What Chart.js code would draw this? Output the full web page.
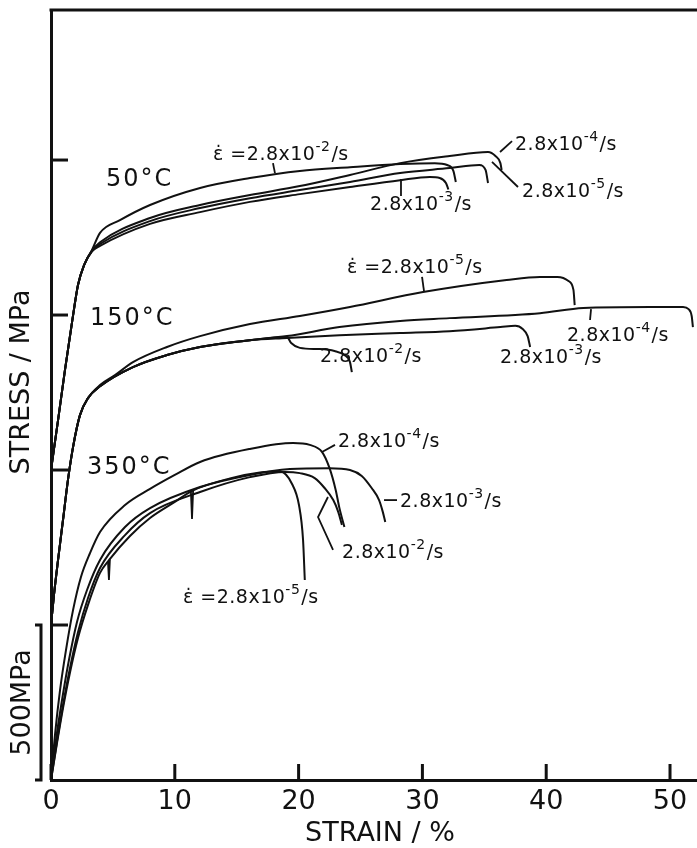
<!DOCTYPE html>
<html>
<head>
<meta charset="utf-8">
<script src="https://cdn.jsdelivr.net/npm/chart.js@4.4.1/dist/chart.umd.min.js"></script>
<style>
  html, body { margin: 0; padding: 0; background: #fff; }
</style>
</head>
<body>
<canvas id="ssChart" width="697" height="848"></canvas>
<script>
// strain in %, stress in MPa; each temperature group is shifted up by its offset
const xTicks = [0, 10, 20, 30, 40, 50];
const yTicks = [500, 1000, 1500, 2000];
const offset50 = 1000, offset150 = 500, offset350 = 0;

// --- 50 C ---
const strain50_e2 = [0, 0.57, 1.13, 1.70, 2.18, 2.67, 3.31, 3.96, 5.57, 8.0, 12.04, 16.07, 20.1, 24.15, 28.2, 31.0, 32.0, 32.5, 32.7];
const stress50_e2 = [0, 161, 323, 477, 597, 661, 710, 765, 806, 855, 910, 942, 965, 977, 987, 990, 984, 965, 929];
const strain50_e3 = [0, 0.57, 1.13, 1.70, 2.18, 2.67, 3.31, 3.96, 8.0, 12.04, 16.07, 20.1, 24.15, 28.2, 30.6, 31.4, 31.9, 32.1];
const stress50_e3 = [0, 161, 323, 477, 597, 661, 705, 723, 794, 832, 865, 890, 913, 935, 945, 942, 926, 905];
const strain50_e4 = [0, 0.57, 1.13, 1.70, 2.18, 2.67, 3.31, 3.96, 8.0, 12.04, 16.07, 20.1, 24.15, 28.2, 32.2, 35.3, 35.9, 36.3, 36.4];
const stress50_e4 = [0, 161, 323, 477, 597, 661, 708, 735, 813, 855, 887, 916, 952, 990, 1013, 1026, 1013, 990, 968];
const strain50_e5 = [0, 0.57, 1.13, 1.70, 2.18, 2.67, 3.31, 3.96, 8.0, 12.04, 16.07, 20.1, 24.15, 28.2, 32.2, 34.6, 35.1, 35.3];
const stress50_e5 = [0, 161, 323, 477, 597, 661, 706, 729, 803, 845, 877, 903, 929, 958, 974, 984, 968, 926];

// --- 150 C ---
const strain150_e2 = [0, 0.24, 0.57, 0.97, 1.37, 1.78, 2.34, 2.99, 3.96, 6.62, 9.37, 12.04, 16.07, 19.06, 19.4, 20.1, 21.7, 22.9, 23.7, 24.15, 24.3];
const stress150_e2 = [0, 97, 210, 339, 468, 574, 677, 732, 770, 832, 871, 897, 919, 929, 910, 894, 890, 884, 871, 848, 816];
const strain150_e3 = [0, 0.24, 0.57, 0.97, 1.37, 1.78, 2.34, 2.99, 3.96, 6.62, 9.37, 12.04, 16.07, 19.06, 23.3, 28.2, 32.2, 36.3, 37.5, 38.1, 38.5, 38.7];
const stress150_e3 = [0, 97, 210, 339, 468, 574, 677, 732, 770, 832, 871, 897, 919, 926, 935, 942, 948, 961, 965, 955, 932, 897];
const strain150_e4 = [0, 0.24, 0.57, 0.97, 1.37, 1.78, 2.34, 2.99, 3.96, 6.62, 9.37, 12.04, 16.07, 19.06, 23.3, 28.2, 32.2, 39.5, 43.0, 48.4, 51.05, 51.5, 51.75, 51.85];
const stress150_e4 = [0, 97, 210, 339, 468, 574, 677, 732, 770, 832, 871, 897, 919, 932, 961, 981, 990, 1006, 1023, 1026, 1026, 1019, 997, 961];
const strain150_e5 = [0, 0.24, 0.57, 0.97, 1.37, 1.78, 2.34, 2.99, 3.96, 5.17, 6.62, 9.37, 12.04, 16.07, 20.1, 24.15, 30.05, 36.8, 39.5, 40.9, 41.8, 42.2, 42.3];
const stress150_e5 = [0, 97, 210, 339, 468, 574, 677, 732, 774, 806, 848, 897, 932, 971, 997, 1026, 1074, 1113, 1123, 1123, 1110, 1081, 1032];

// --- 350 C ---
const strain350_e2 = [0, 0.48, 0.97, 1.53, 2.18, 2.99, 3.96, 5.98, 8.0, 12.04, 16.07, 18.9, 20.1, 21.3, 22.1, 22.8, 23.2, 23.5];
const stress350_e2 = [0, 123, 242, 361, 477, 587, 684, 790, 861, 929, 977, 994, 990, 974, 942, 903, 865, 823];
const strain350_e3 = [0, 0.40, 0.89, 1.45, 2.10, 2.91, 3.96, 5.98, 8.0, 12.04, 16.07, 19.3, 22.5, 24.15, 25.1, 25.9, 26.5, 26.8, 27.0];
const stress350_e3 = [0, 129, 258, 387, 510, 613, 710, 816, 877, 945, 984, 1003, 1006, 1000, 981, 942, 903, 865, 832];
const strain350_e4 = [0, 0.32, 0.73, 1.21, 1.78, 2.42, 3.15, 3.96, 5.98, 8.0, 10.0, 12.04, 16.07, 19.55, 20.9, 21.9, 22.5, 23.0, 23.3, 23.7];
const stress350_e4 = [0, 145, 290, 419, 548, 655, 732, 800, 887, 939, 984, 1026, 1068, 1087, 1081, 1058, 1006, 935, 877, 816];
const strain350_e5 = [0, 0.48, 0.97, 1.53, 2.18, 2.99, 3.96, 4.7, 6.38, 8.0, 10.0, 11.4, 14.46, 16.88, 18.5, 19.47, 20.03, 20.36, 20.5];
const stress350_e5 = [0, 118, 232, 346, 458, 565, 668, 710, 787, 845, 897, 933, 973, 992, 995, 955, 887, 774, 645];
// short load drops on the 2.8x10^-5 /s curve at 350 C
const dropStrainA = [4.6, 4.68, 4.76];
const dropStressA = [706, 645, 712];
const dropStrainB = [11.3, 11.39, 11.48];
const dropStressB = [931, 842, 934];

const curves = [
  [strain50_e2, stress50_e2, offset50], [strain50_e3, stress50_e3, offset50],
  [strain50_e4, stress50_e4, offset50], [strain50_e5, stress50_e5, offset50],
  [strain150_e2, stress150_e2, offset150], [strain150_e3, stress150_e3, offset150],
  [strain150_e4, stress150_e4, offset150], [strain150_e5, stress150_e5, offset150],
  [strain350_e2, stress350_e2, offset350], [strain350_e3, stress350_e3, offset350],
  [strain350_e4, stress350_e4, offset350], [strain350_e5, stress350_e5, offset350]
];
const drops = [
  [dropStrainA, dropStressA, offset350],
  [dropStrainB, dropStressB, offset350]
];

// annotation anchors (strain, shifted stress)
const tempLabels = [
  { text: '50°C', x: 4.44, y: 1935 },
  { text: '150°C', x: 3.15, y: 1487 },
  { text: '350°C', x: 2.91, y: 1006 }
];
const rateLabels = [
  { dot: true, exp: '-2', x: 13.09, y: 2016 },
  { dot: false, exp: '-4', x: 37.48, y: 2048 },
  { dot: false, exp: '-5', x: 38.05, y: 1897 },
  { dot: false, exp: '-3', x: 25.77, y: 1855 },
  { dot: true, exp: '-5', x: 23.91, y: 1652 },
  { dot: false, exp: '-4', x: 41.68, y: 1432 },
  { dot: false, exp: '-3', x: 36.27, y: 1361 },
  { dot: false, exp: '-2', x: 21.73, y: 1365 },
  { dot: false, exp: '-4', x: 23.18, y: 1090 },
  { dot: false, exp: '-3', x: 28.19, y: 897 },
  { dot: false, exp: '-2', x: 23.51, y: 732 },
  { dot: true, exp: '-5', x: 10.66, y: 587 }
];
const leaders = [
  [[17.93, 1990], [18.09, 1958]],
  [[37.24, 2061], [36.27, 2026]],
  [[35.62, 1994], [37.72, 1913]],
  [[28.27, 1884], [28.27, 1939]],
  [[29.97, 1623], [30.13, 1577]],
  [[43.54, 1484], [43.62, 1519]],
  [[22.94, 1081], [21.89, 1058]],
  [[27.95, 903], [26.9, 903]],
  [[22.78, 742], [21.57, 848], [22.37, 913]]
];

const FONT = '"DejaVu Sans", sans-serif';

const decorPlugin = {
  id: 'decor',
  afterDatasetsDraw(chart) {
    const ctx = chart.ctx;
    const xs = chart.scales.x, ys = chart.scales.y;
    const area = chart.chartArea;
    ctx.save();
    ctx.strokeStyle = '#111';
    ctx.fillStyle = '#111';
    ctx.lineCap = 'butt';

    // top frame line
    ctx.lineWidth = 3;
    ctx.beginPath();
    ctx.moveTo(area.left - 1.5, area.top);
    ctx.lineTo(area.right, area.top);
    ctx.stroke();

    // inward tick marks
    xTicks.forEach(v => {
      const px = xs.getPixelForValue(v);
      ctx.beginPath();
      ctx.moveTo(px, area.bottom);
      ctx.lineTo(px, area.bottom - 16);
      ctx.stroke();
    });
    yTicks.forEach(v => {
      const py = ys.getPixelForValue(v);
      ctx.beginPath();
      ctx.moveTo(area.left, py);
      ctx.lineTo(area.left + 17, py);
      ctx.stroke();
    });

    // scale bar 0..500 MPa
    const y0 = ys.getPixelForValue(0), y500 = ys.getPixelForValue(500);
    ctx.beginPath();
    ctx.moveTo(35, y500);
    ctx.lineTo(41, y500);
    ctx.lineTo(41, y0);
    ctx.lineTo(35, y0);
    ctx.stroke();

    ctx.textAlign = 'center';
    ctx.textBaseline = 'middle';
    ctx.font = '27px ' + FONT;
    ctx.save();
    ctx.translate(23, (y0 + y500) / 2);
    ctx.rotate(-Math.PI / 2);
    ctx.fillText('500MPa', 0, 0);
    ctx.restore();

    // axis titles
    ctx.save();
    ctx.translate(22, 382);
    ctx.rotate(-Math.PI / 2);
    ctx.fillText('STRESS / MPa', 0, 0);
    ctx.restore();
    ctx.fillText('STRAIN / %', 380, 834);

    // temperature labels
    ctx.textAlign = 'left';
    ctx.font = '24px ' + FONT;
    ctx.letterSpacing = '2px';
    tempLabels.forEach(t => {
      ctx.fillText(t.text, xs.getPixelForValue(t.x), ys.getPixelForValue(t.y));
    });

    // strain-rate labels
    ctx.letterSpacing = '0.5px';
    rateLabels.forEach(l => {
      let px = xs.getPixelForValue(l.x);
      const py = ys.getPixelForValue(l.y);
      const head = (l.dot ? '\u03B5\u0307 =' : '') + '2.8x10';
      ctx.font = '19px ' + FONT;
      ctx.fillText(head, px, py);
      px += ctx.measureText(head).width;
      ctx.font = '14px ' + FONT;
      ctx.fillText(l.exp, px, py - 8);
      px += ctx.measureText(l.exp).width + 1;
      ctx.font = '19px ' + FONT;
      ctx.fillText('/s', px, py);
    });
    ctx.letterSpacing = '0px';

    // leader lines
    ctx.lineWidth = 1.8;
    leaders.forEach(pts => {
      ctx.beginPath();
      pts.forEach((p, i) => {
        const px = xs.getPixelForValue(p[0]), py = ys.getPixelForValue(p[1]);
        if (i === 0) ctx.moveTo(px, py); else ctx.lineTo(px, py);
      });
      ctx.stroke();
    });
    ctx.restore();
  }
};

const toPoints = c => c[0].map((s, i) => ({ x: s, y: c[1][i] + c[2] }));

new Chart(document.getElementById('ssChart'), {
  type: 'line',
  data: {
    datasets: curves.map(c => ({
      data: toPoints(c),
      borderColor: '#111',
      borderWidth: 2,
      pointRadius: 0,
      fill: false,
      cubicInterpolationMode: 'monotone'
    })).concat(drops.map(c => ({
      data: toPoints(c),
      borderColor: '#111',
      borderWidth: 1.8,
      pointRadius: 0,
      fill: false,
      tension: 0
    })))
  },
  options: {
    responsive: false,
    animation: false,
    layout: { padding: { top: 10, right: 0, left: 0, bottom: 0 } },
    plugins: { legend: { display: false }, tooltip: { enabled: false } },
    scales: {
      x: {
        type: 'linear',
        min: 0,
        max: 52.18,
        afterFit: s => { s.height = 68; },
        afterBuildTicks: s => { s.ticks = xTicks.map(v => ({ value: v })); },
        grid: { display: false, drawTicks: false },
        border: { display: true, color: '#111', width: 3 },
        ticks: {
          color: '#111',
          padding: 6,
          maxRotation: 0,
          autoSkip: false,
          font: { family: 'DejaVu Sans', size: 27 }
        }
      },
      y: {
        type: 'linear',
        min: 0,
        max: 2484,
        afterFit: s => { s.width = 51; },
        grid: { display: false, drawTicks: false },
        border: { display: true, color: '#111', width: 3 },
        ticks: { display: false }
      }
    }
  },
  plugins: [decorPlugin]
});
</script>
</body>
</html>
